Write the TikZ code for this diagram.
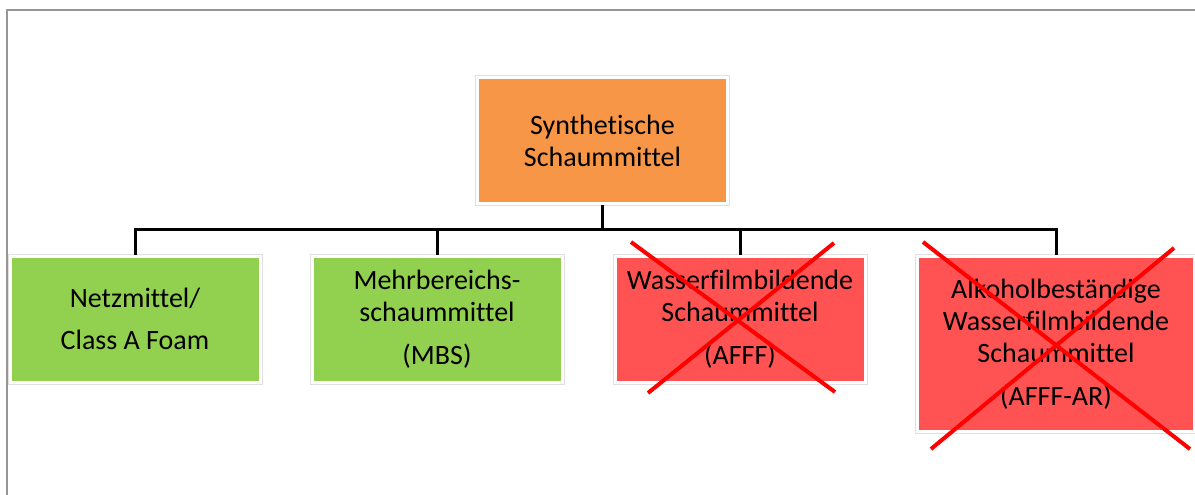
\documentclass[tikz,border=0pt]{standalone}
\usepackage{fontspec}
\setmainfont[Ligatures=NoCommon]{Carlito}

\definecolor{synorange}{HTML}{F79646}
\definecolor{okgreen}{HTML}{92D050}
\definecolor{badred}{HTML}{FF5353}
\definecolor{framegray}{HTML}{969696}

\begin{document}
\begin{tikzpicture}[
  x=0.75pt,
  y=-0.75pt,
  line cap=round,
  line join=round,
  smartbox/.style={
    fill=#1,
    draw=white,
    line width=2.25pt,
    line join=miter,
    preaction={draw=black!12, line width=3.75pt},
    minimum width=\boxw,
    minimum height=\boxh,
    inner sep=0pt,
    align=center,
    font=\fontsize{21}{24}\selectfont
  },
  branch/.style={
    draw=black,
    line width=2.25pt,
    line cap=butt,
    line join=miter
  },
  strike/.style={
    draw=red,
    line width=3pt,
    line cap=butt
  }
]
  % Maße in Pixeln der Vorlage
  \def\boxw{250*0.75pt}
  \def\boxh{126*0.75pt}
  \def\busy{229}

  \useasboundingbox (0,0) rectangle (1195,494);

  % Rahmen
  \draw[framegray, line width=1.2pt, line cap=butt]
    (7,500) -- (7,10) -- (1200,10);

  % Oberbegriff
  \node[smartbox=synorange] (synth) at (602.5,140.5)
    {Synthetische\\Schaummittel};

  % Untergruppen
  \node[smartbox=okgreen] (netz) at (135,319)
    {Netzmittel/\\[8pt]Class A Foam};

  \node[smartbox=okgreen] (mbs) at (437,319)
    {Mehrbereichs-\\schaummittel\\[8pt](MBS)};

  \node[smartbox=badred] (afff) at (740,319)
    {Wasserfilmbildende\\Schaummittel\\[8pt](AFFF)};

  \node[smartbox=badred, minimum width=277*0.75pt, minimum height=175*0.75pt]
    (afffar) at (1056,344)
    {Alkoholbeständige\\Wasserfilmbildende\\Schaummittel\\[8pt](AFFF-AR)};

  \coordinate (bus) at (602.5,\busy);

  % Verbindungen
  \draw[branch]
    (synth.south) -- (bus);

  \draw[branch]
    (netz.north) -- (netz.north |- bus)
    -- (afffar.north |- bus) -- (afffar.north);

  \foreach \child in {mbs,afff}
    \draw[branch] (\child.north) -- (\child.north |- bus);

  % Durchgestrichen
  \draw[strike] (631,242) -- (835,392);
  \draw[strike] (834,243) -- (648,393);

  \draw[strike] (923,242) -- (1190,449);
  \draw[strike] (1174,248) -- (931,449);
\end{tikzpicture}
\end{document}
